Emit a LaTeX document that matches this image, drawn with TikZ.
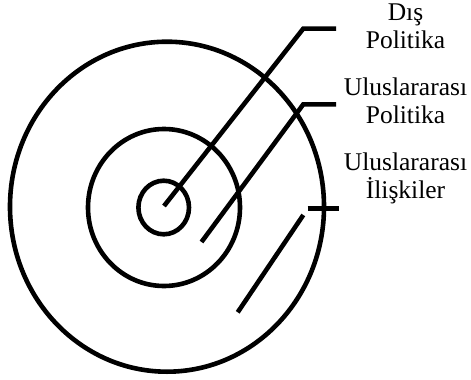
\documentclass[tikz,border=0pt]{standalone}
\usepackage{fontspec}
\setmainfont{Liberation Serif}
\begin{document}
\begin{tikzpicture}[x=1pt,y=-1pt,
  ring/.style={line width=4.6pt},
  leader/.style={line width=4.6pt},
  lbl/.style={anchor=base,inner sep=0pt,font=\fontsize{25.5}{27.6}\selectfont}]
\useasboundingbox (0,0) rectangle (471,380);
% rings
\draw[ring] (167,206.7) ellipse [x radius=157, y radius=165];
\draw[ring] (164,207.5) ellipse [x radius=76, y radius=78.5];
\draw[ring] (163.7,207.5) ellipse [x radius=25.3, y radius=26.8];
% leader points
\coordinate (a0) at (164,206);
\coordinate (a1) at (303.3,28.6);
\coordinate (a2) at (336,28.6);
\coordinate (b0) at (201.5,242);
\coordinate (b1) at (303.3,104.3);
\coordinate (b2) at (336,104.3);
\coordinate (c0) at (237.7,312.3);
\coordinate (c1) at (303.3,215);
\coordinate (d1) at (307.7,208.3);
\coordinate (d2) at (339.3,208.3);
\draw[leader] (a0) -- (a1) -- (a2);
\draw[leader] (b0) -- (b1) -- (b2);
\draw[leader] (c0) -- (c1);
\draw[leader] (d1) -- (d2);
% labels
\node[lbl] (t1a) at (405.5,20.7) {Dış};
\node[lbl] (t1b) at (405.5,48.3) {Politika};
\node[lbl] (t2a) at (405.5,95.7) {Uluslararası};
\node[lbl] (t2b) at (405.5,123.3) {Politika};
\node[lbl] (t3a) at (405.5,170.7) {Uluslararası};
\node[lbl] (t3b) at (405.5,198.3) {İlişkiler};
\end{tikzpicture}
\end{document}
